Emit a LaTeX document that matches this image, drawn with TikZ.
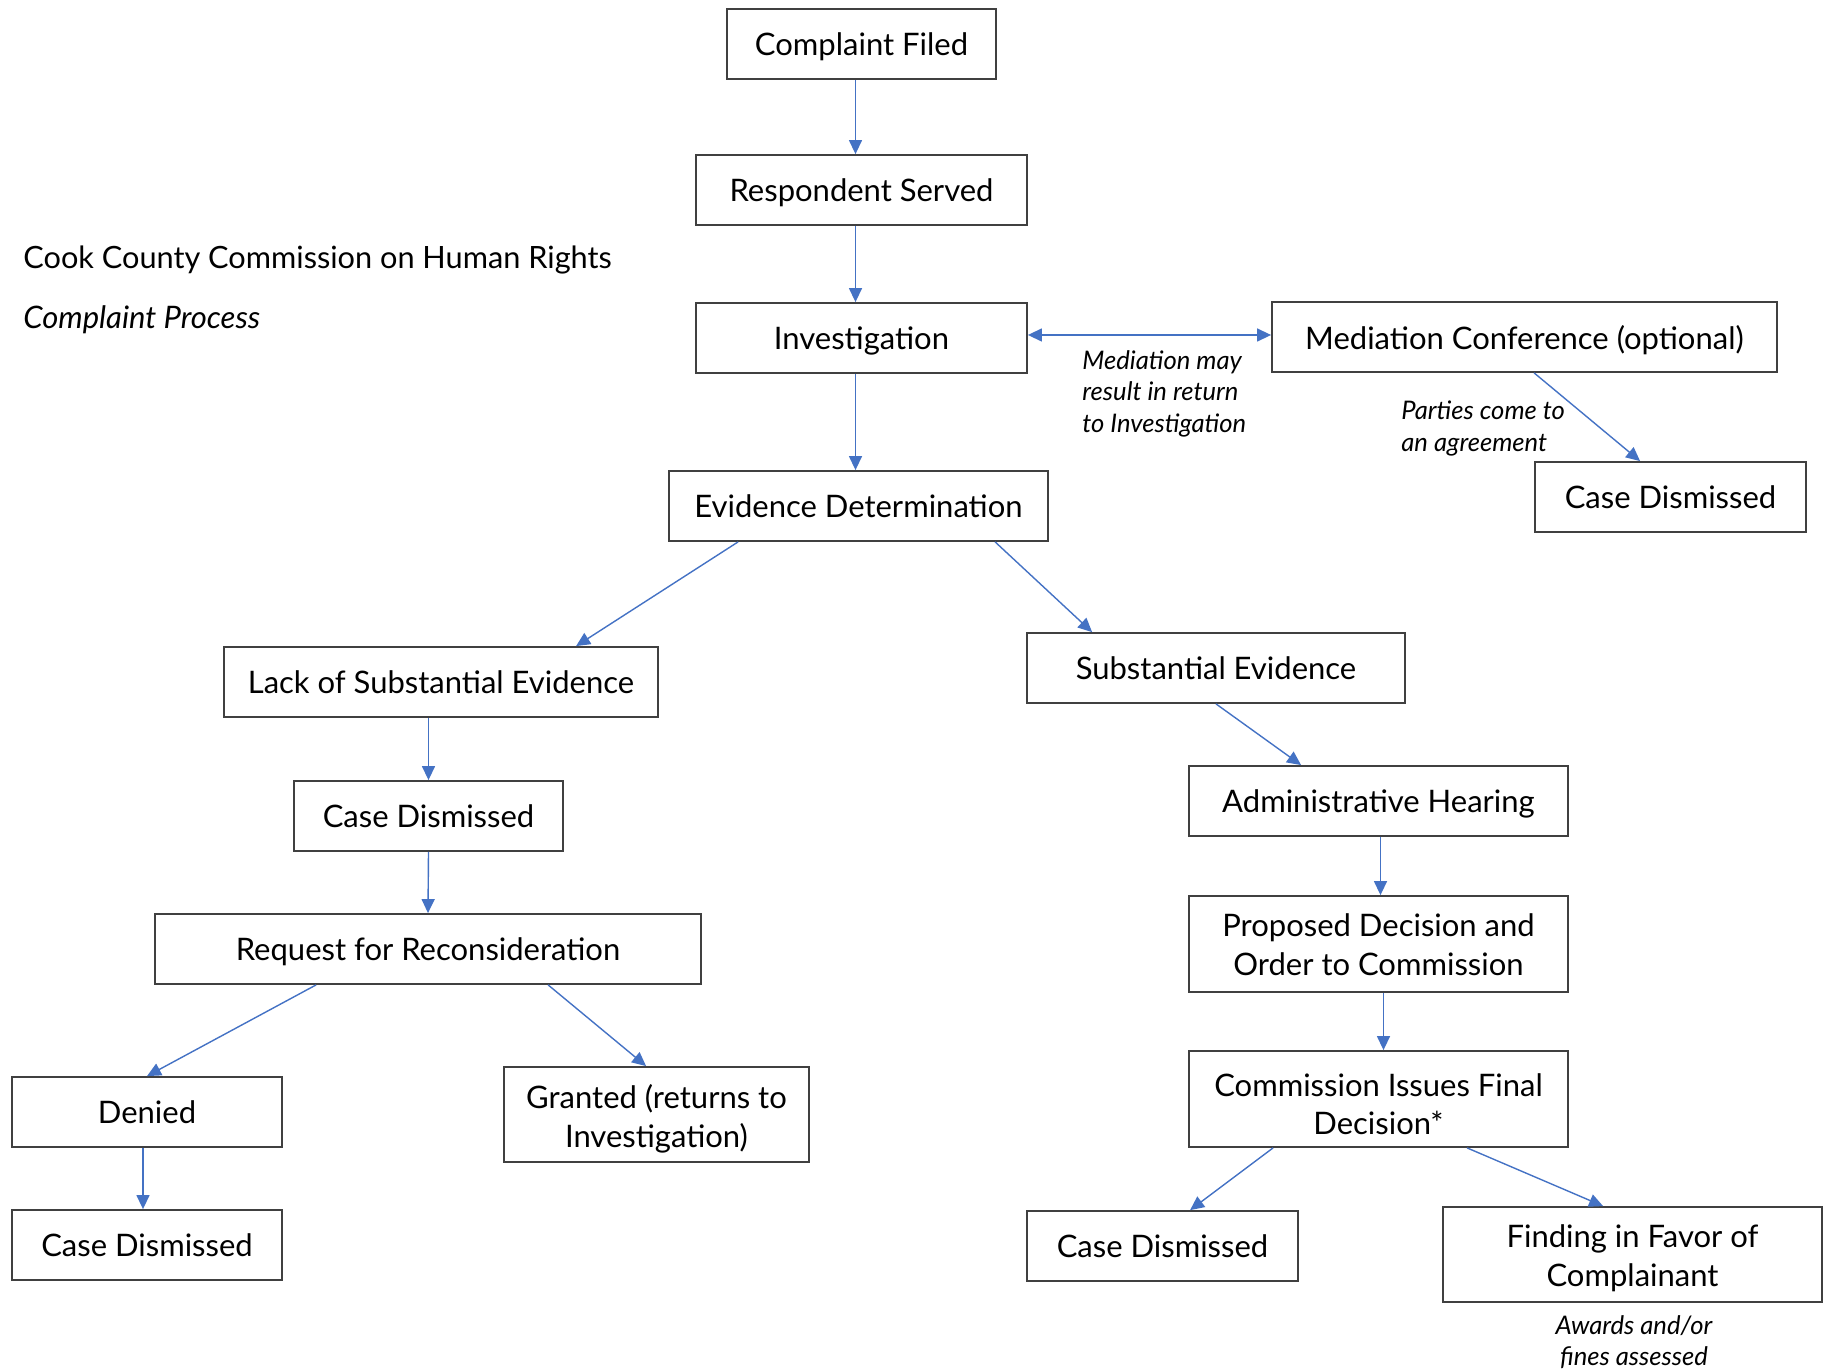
\documentclass[tikz,border=0pt]{standalone}
\usepackage{fontspec}
\setmainfont{Lato}
\usetikzlibrary{arrows.meta,calc}
\definecolor{arrowblue}{HTML}{4472C4}
\definecolor{boxgray}{HTML}{404040}
\newcommand{\twoline}[3]{\raisebox{-#1}[\height][\depth]{\begin{tabular}{@{}c@{}}#2\\#3\end{tabular}}}
\begin{document}
\begin{tikzpicture}[x=0.5pt,y=-0.5pt,
  basebox/.style={draw=boxgray,line width=0.9pt,rectangle,align=center,inner sep=0pt,
    font=\fontsize{15.5}{19.25}\selectfont},
  box/.style={basebox,minimum height=35pt,text depth=0pt},
  tall/.style={basebox,minimum height=48pt},
  conn/.style={draw=arrowblue,line width=0.7pt,-{Triangle[length=7pt,width=6.5pt]}},
  note/.style={font=\fontsize{12.8}{15.75}\selectfont\itshape,inner sep=0pt},
]
\useasboundingbox (0,0) rectangle (1828,1369);

\node[anchor=west,inner sep=0pt,font=\fontsize{15.35}{19}\selectfont] (title) at (23,260) {Cook County Commission on Human Rights};
\node[anchor=west,inner sep=0pt,font=\fontsize{15.5}{19}\selectfont\itshape] (sub1) at (23,320) {Complaint Process};

\node[box,minimum width=134.5pt] (cf) at (861.5,44) {Complaint Filed};
\node[box,minimum width=165.5pt] (rs) at (861.5,190) {Respondent Served};
\node[box,minimum width=165.5pt] (inv) at (861.5,338) {Investigation};
\node[box,minimum width=252.5pt] (med) at (1524.5,337) {Mediation Conference (optional)};
\node[box,minimum width=135.5pt] (cd1) at (1670.5,497) {Case Dismissed};
\node[box,minimum width=189.5pt] (ed) at (858.5,506) {Evidence Determination};
\node[box,minimum width=217pt] (lack) at (441,682) {Lack of Substantial Evidence};
\node[box,minimum width=189pt] (sub) at (1216,668) {Substantial Evidence};
\node[box,minimum width=134.5pt] (cd2) at (428.5,816) {Case Dismissed};
\node[box,minimum width=189.5pt] (adm) at (1378.5,801) {Administrative Hearing};
\node[box,minimum width=273pt] (req) at (428,949) {Request for Reconsideration};
\node[tall,minimum width=189.5pt] (prop) at (1378.5,944) {\twoline{2.2pt}{Proposed Decision and}{Order to Commission}};
\node[box,minimum width=135pt] (den) at (147,1112) {Denied};
\node[tall,minimum width=152.5pt,minimum height=47.5pt] (gr) at (656.5,1114.5) {\twoline{2.9pt}{Granted (returns to}{Investigation)}};
\node[tall,minimum width=189.5pt] (cif) at (1378.5,1099) {\twoline{4.5pt}{Commission Issues Final}{Decision*}};
\node[box,minimum width=135pt] (cd3) at (147,1245) {Case Dismissed};
\node[box,minimum width=135.5pt] (cd4) at (1162.5,1246) {Case Dismissed};
\node[tall,minimum width=189.5pt,minimum height=47.5pt] (fav) at (1632.5,1254.5) {\twoline{2.4pt}{Finding in Favor of}{Complainant}};

\node[note,anchor=west,align=left] (mnote) at (1082,393.5) {Mediation may\\result in return\\to Investigation};
\node[note,anchor=west,align=left] (pnote) at (1401,428.5) {Parties come to\\an agreement};
\node[note,align=center] (anote) at (1634,1342) {Awards and/or\\fines assessed};

\draw[conn] ([xshift=-3pt]cf.south) -- ([xshift=-3pt]rs.north);
\draw[conn] ([xshift=-3pt]rs.south) -- ([xshift=-3pt]inv.north);
\draw[conn,{Triangle[length=7pt,width=6.5pt]}-{Triangle[length=7pt,width=6.5pt]}] ([yshift=1.5pt]inv.east) -- ([yshift=1pt]med.west);
\draw[conn] ([xshift=-3pt]inv.south) -- ([xshift=-3pt]inv.south |- ed.north);
\draw[conn] ($(med.south west)+(263,0)$) -- ($(cd1.north west)+(106,0)$);
\draw[conn] ($(ed.south west)+(70,0)$) -- ($(lack.north west)+(353,0)$);
\draw[conn] ($(ed.south west)+(327,0)$) -- ($(sub.north west)+(66,0)$);
\draw[conn] (lack.south -| cd2.north) -- (cd2.north);
\draw[conn] (cd2.south) -- (req.north);
\draw[conn] (sub.south) -- ($(adm.north west)+(113,0)$);
\draw[conn] ([xshift=1pt]adm.south) -- ([xshift=1pt]prop.north);
\draw[conn] ([xshift=2.5pt]prop.south) -- ([xshift=2.5pt]cif.north);
\draw[conn] ($(req.south west)+(162,0)$) -- (den.north);
\draw[conn] ($(req.south west)+(394,0)$) -- ($(gr.north west)+(143,0)$);
\draw[conn] ([xshift=-2pt]den.south) -- ([xshift=-2pt]cd3.north);
\draw[conn] ($(cif.south west)+(85,0)$) -- ($(cd4.north west)+(164,0)$);
\draw[conn] ($(cif.south west)+(279,0)$) -- ($(fav.north west)+(161,0)$);
\end{tikzpicture}
\end{document}
